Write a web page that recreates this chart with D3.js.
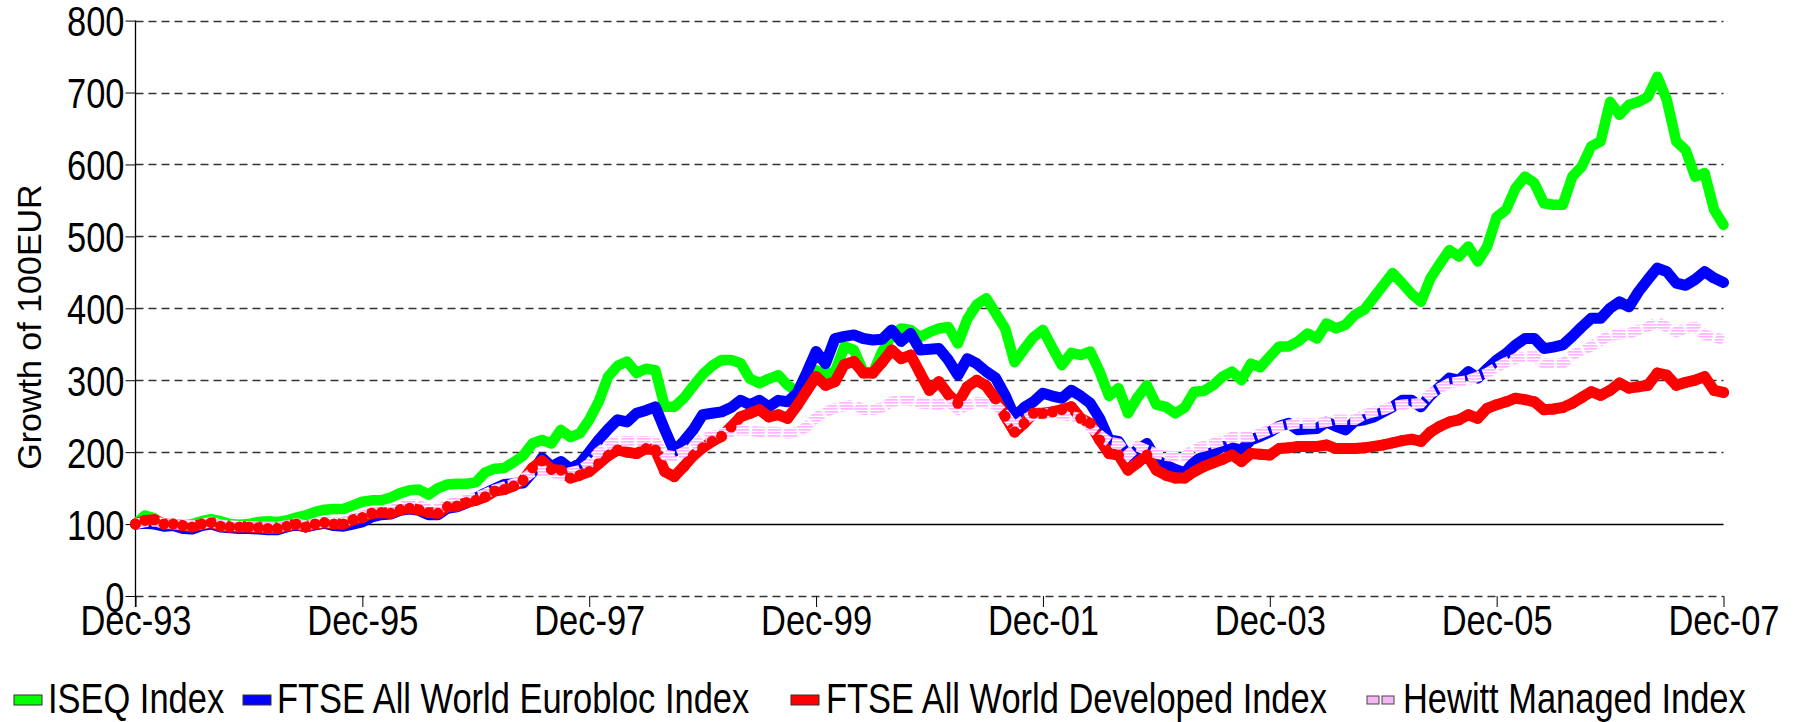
<!DOCTYPE html>
<html>
<head>
<meta charset="utf-8">
<script src="https://cdn.jsdelivr.net/npm/d3@7"></script>
<style>
  body { margin: 0; background: #fff; }
  text { font-family: "Liberation Sans", Arial, sans-serif; fill: #000; }
</style>
</head>
<body>
<svg id="chart"></svg>
<script>
// monthly values, Dec-93 .. Dec-07 (one row per year, first row is Dec-93)
const iseq = [
  100,
  112, 108, 97, 99, 98, 100, 104, 107, 104, 100, 99, 100,
  103, 104, 103, 105, 109, 112, 117, 120, 121, 121, 126, 131,
  133, 133, 137, 143, 147, 148, 141, 150, 155, 156, 156, 158,
  172, 177, 178, 186, 195, 212, 217, 212, 231, 221, 226, 245,
  270, 305, 320, 326, 310, 316, 314, 263, 263, 275, 292, 308,
  320, 328, 328, 324, 302, 296, 302, 307, 293, 284, 308, 314,
  308, 312, 347, 342, 312, 310, 340, 362, 372, 370, 360, 367,
  372, 374, 351, 385, 405, 414, 393, 372, 325, 343, 360, 370,
  345, 321, 338, 335, 340, 312, 278, 289, 254, 276, 293, 266,
  263, 254, 262, 284, 285, 293, 305, 312, 300, 323, 318, 333,
  347, 347, 354, 365, 358, 379, 372, 377, 391, 398, 415, 432,
  449, 435, 420, 409, 442, 462, 481, 472, 486, 465, 486, 527,
  537, 567, 583, 574, 546, 544, 544, 583, 597, 625, 632, 687,
  669, 683, 687, 694, 722, 690, 632, 620, 583, 588, 537, 516
]
const eurobloc = [
  100,
  101, 100, 97, 98, 94, 93, 98, 100, 96, 95, 94, 94,
  93, 92, 92, 96, 99, 96, 99, 101, 98, 97, 100, 103,
  110, 113, 114, 119, 121, 119, 113, 113, 122, 124, 129, 136,
  143, 149, 155, 156, 157, 172, 192, 180, 187, 177, 184, 200,
  217, 232, 245, 242, 254, 258, 263, 231, 201, 215, 231, 252,
  254, 256, 262, 272, 266, 272, 263, 272, 270, 282, 310, 340,
  323, 358, 361, 363, 358, 356, 357, 370, 354, 365, 342, 343,
  344, 328, 307, 330, 323, 312, 303, 279, 249, 262, 270, 282,
  278, 275, 286, 278, 268, 247, 217, 215, 194, 203, 212, 189,
  182, 176, 171, 187, 194, 200, 208, 206, 203, 217, 222, 228,
  236, 240, 231, 232, 233, 242, 236, 231, 243, 245, 249, 256,
  263, 272, 272, 263, 279, 291, 303, 300, 312, 303, 316, 328,
  337, 349, 358, 358, 344, 346, 349, 361, 374, 386, 386, 400,
  409, 402, 423, 440, 456, 451, 435, 432, 440, 451, 442, 436
]
const developed = [
  100,
  105, 106, 100, 100, 98, 96, 100, 102, 97, 96, 96, 96,
  95, 94, 94, 97, 100, 96, 100, 102, 100, 100, 106, 109,
  115, 116, 115, 120, 122, 120, 116, 115, 124, 125, 130, 133,
  138, 146, 148, 153, 161, 178, 188, 176, 175, 164, 168, 173,
  184, 195, 203, 200, 198, 205, 203, 173, 166, 180, 195, 206,
  215, 222, 235, 249, 254, 259, 249, 252, 247, 265, 285, 305,
  293, 298, 322, 326, 310, 310, 325, 342, 330, 335, 310, 286,
  298, 280, 268, 291, 300, 292, 274, 250, 228, 240, 254, 254,
  256, 259, 263, 247, 240, 217, 198, 196, 175, 185, 196, 175,
  168, 164, 164, 173, 180, 185, 190, 196, 187, 198, 197, 196,
  205, 206, 208, 208, 208, 210, 205, 205, 205, 206, 208, 210,
  213, 216, 218, 215, 228, 236, 242, 245, 252, 247, 261, 266,
  270, 275, 273, 270, 259, 260, 262, 268, 276, 284, 279, 286,
  296, 289, 291, 293, 310, 307, 293, 297, 300, 305, 286, 283
]
const hewitt = [
  100,
  103, 104, 101, 100, 99, 98, 100, 103, 99, 98, 97, 97,
  96, 96, 96, 98, 101, 98, 101, 103, 102, 103, 108, 112,
  118, 119, 119, 124, 127, 126, 121, 120, 128, 130, 134, 137,
  142, 148, 152, 156, 163, 172, 175, 172, 168, 172, 175, 184,
  200, 210, 215, 215, 215, 215, 214, 196, 194, 200, 208, 219,
  222, 226, 228, 231, 230, 228, 228, 228, 226, 228, 235, 248,
  256, 261, 264, 266, 259, 259, 262, 270, 272, 272, 268, 267,
  266, 270, 259, 265, 270, 268, 266, 252, 235, 245, 252, 254,
  254, 252, 250, 247, 235, 224, 214, 212, 196, 208, 203, 198,
  195, 194, 194, 205, 208, 212, 216, 221, 221, 221, 226, 231,
  235, 238, 240, 240, 240, 242, 245, 245, 245, 252, 256, 259,
  264, 266, 267, 268, 282, 289, 296, 298, 300, 305, 310, 318,
  325, 330, 333, 333, 323, 323, 323, 335, 341, 347, 355, 363,
  364, 365, 370, 374, 381, 374, 367, 372, 374, 363, 360, 356
]

const xTickLabels = ['Dec-93', 'Dec-95', 'Dec-97', 'Dec-99', 'Dec-01', 'Dec-03', 'Dec-05', 'Dec-07']
const yTicks = [0, 100, 200, 300, 400, 500, 600, 700, 800]
const seriesNames = ['ISEQ Index', 'FTSE All World Eurobloc Index', 'FTSE All World Developed Index', 'Hewitt Managed Index']

let width = 1798
let height = 722
const fontSize = 42
const squeezeK = 0.82

const svg = d3.select('#chart').attr('width', width).attr('height', height)

// striped pink pattern for the Hewitt line
const defs = svg.append('defs')
const pat = defs.append('pattern')
  .attr('id', 'hewittPat')
  .attr('patternUnits', 'userSpaceOnUse')
  .attr('width', 4).attr('height', 3)
pat.append('rect').attr('width', 4).attr('height', 3).attr('fill', '#ffffff')
pat.append('rect').attr('width', 4).attr('height', 1.7).attr('fill', '#ffb4ff')

const x = d3.scaleLinear().domain([0, iseq.length - 1]).range([135.5, 1723.5])
const y = d3.scaleLinear().domain([0, 800]).range([596, 20.6])

// squeeze text horizontally (the original lettering is narrow)
function squeeze(sel, k) {
  sel.each(function () {
    const len = this.getComputedTextLength()
    d3.select(this).attr('textLength', len * k).attr('lengthAdjust', 'spacingAndGlyphs')
  })
}

// gridlines
svg.append('g')
  .selectAll('line')
  .data(yTicks)
  .join('line')
  .attr('x1', x(0))
  .attr('x2', x(iseq.length - 1))
  .attr('y1', (d) => Math.round(y(d)) + 0.5)
  .attr('y2', (d) => Math.round(y(d)) + 0.5)
  .attr('stroke', (d) => (d === 100 ? '#000' : '#333'))
  .attr('stroke-width', 1.4)
  .attr('stroke-dasharray', (d) => (d === 100 ? null : '8,5'))

// y axis
const yAxis = svg.append('g')
  .attr('transform', 'translate(' + x(0) + ',0)')
  .call(d3.axisLeft(y).tickValues(yTicks).tickSize(10).tickPadding(1))
yAxis.select('.domain').remove()
yAxis.selectAll('line').attr('stroke', '#000')
yAxis.selectAll('text')
  .attr('font-size', fontSize)
  .attr('font-family', '"Liberation Sans", Arial, sans-serif')
  .attr('dy', null)
  .attr('y', 15)
  .call(squeeze, squeezeK)

svg.append('line')
  .attr('x1', x(0)).attr('x2', x(0))
  .attr('y1', y(800)).attr('y2', 607)
  .attr('stroke', '#000').attr('stroke-width', 1.3)

// x axis
const xTickPos = xTickLabels.map((d, i) => i * 24)
const xAxis = svg.append('g')
  .attr('transform', 'translate(0,' + y(0) + ')')
  .call(d3.axisBottom(x).tickValues(xTickPos).tickSize(11).tickFormat((d, i) => xTickLabels[i]))
xAxis.select('.domain').remove()
xAxis.selectAll('line').attr('stroke', '#000')
xAxis.selectAll('text')
  .attr('font-size', fontSize)
  .attr('font-family', '"Liberation Sans", Arial, sans-serif')
  .attr('dy', null)
  .attr('y', 39)
  .call(squeeze, squeezeK)

// y axis title
svg.append('text')
  .attr('transform', 'translate(41,327) rotate(-90)')
  .attr('text-anchor', 'middle')
  .attr('font-size', 34)
  .text('Growth of 100EUR')

// the lines
const line = d3.line().x((d, i) => x(i)).y((d) => y(d))

const lines = [
  { data: iseq, color: '#00ff00', w: 10.5 },
  { data: eurobloc, color: '#0000ff', w: 11 },
  { data: developed, color: '#ff0000', w: 11 },
]
svg.append('g')
  .selectAll('path')
  .data(lines)
  .join('path')
  .attr('d', (d) => line(d.data))
  .attr('fill', 'none')
  .attr('stroke', (d) => d.color)
  .attr('stroke-width', (d) => d.w)
  .attr('stroke-linejoin', 'round')
  .attr('stroke-linecap', 'round')

svg.append('path')
  .attr('d', line(hewitt))
  .attr('fill', 'none')
  .attr('stroke', 'url(#hewittPat)')
  .attr('stroke-width', 10.5)
  .attr('stroke-dasharray', '13,3')

// round markers of the developed index sit over the Hewitt line
svg.append('g')
  .selectAll('circle')
  .data(developed)
  .join('circle')
  .attr('cx', (d, i) => x(i))
  .attr('cy', (d) => y(d))
  .attr('r', 5.5)
  .attr('fill', '#ff0000')

// legend
const legendX = [48, 277, 826, 1403]
const legendSym = [14, 243, 791, 1367]
const legendColors = ['#00ff00', '#0000ff', '#ff0000']
const legend = svg.append('g')

legend.selectAll('rect.sym')
  .data(legendColors)
  .join('rect')
  .attr('class', 'sym')
  .attr('x', (d, i) => legendSym[i])
  .attr('y', 695)
  .attr('width', 28)
  .attr('height', 10)
  .attr('fill', (d) => d)
  .attr('stroke', '#333')
  .attr('stroke-width', 1)

legend.selectAll('rect.hw')
  .data([0, 1])
  .join('rect')
  .attr('class', 'hw')
  .attr('x', (d) => legendSym[3] + d * 15)
  .attr('y', 696)
  .attr('width', 12)
  .attr('height', 8)
  .attr('fill', '#f5b8f5')
  .attr('stroke', '#444')
  .attr('stroke-width', 1)

legend.selectAll('text')
  .data(seriesNames)
  .join('text')
  .attr('x', (d, i) => legendX[i])
  .attr('y', 713)
  .attr('font-size', fontSize)
  .text((d) => d)
  .call(squeeze, squeezeK)
</script>
</body>
</html>
